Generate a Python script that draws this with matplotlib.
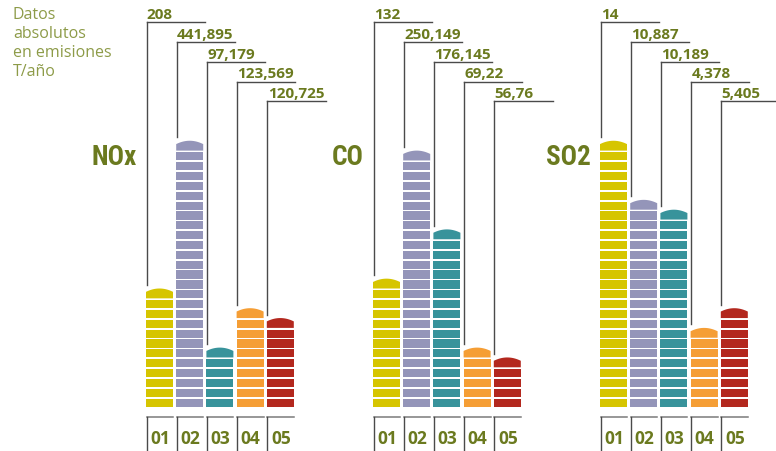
import numpy as np
import matplotlib
matplotlib.use("Agg")
import matplotlib.pyplot as plt
from matplotlib.patches import Polygon
from matplotlib import font_manager

# datos
gases = ['NOx', 'CO', 'SO2']
codigos = ['01', '02', '03', '04', '05']
valores_nox = ['208', '441,895', '97,179', '123,569', '120,725']
valores_co = ['132', '250,149', '176,145', '69,22', '56,76']
valores_so2 = ['14', '10,887', '10,189', '4,378', '5,405']
# altura de cada barra en numero de bloques
bloques_nox = [12, 27, 6, 10, 9]
bloques_co = [13, 26, 18, 6, 5]
bloques_so2 = [27, 21, 20, 8, 10]
titulo = ['Datos', 'absolutos', 'en emisiones', 'T/año']

colores = ['#d6c500', '#9495b9', '#38939b', '#f59e35', '#b3281e']
verde = '#6b7a1f'
verde_claro = '#8d9b48'
gris = '#4a4a4a'

valores = [valores_nox, valores_co, valores_so2]
bloques = [bloques_nox, bloques_co, bloques_so2]

# buscar una fuente estrecha para los nombres de los gases
instaladas = font_manager.fontManager.ttflist
fuente_gas = None
for nombre in ['Liberation Sans Narrow', 'Roboto Condensed', 'Open Sans Condensed',
               'DejaVu Sans Condensed']:
    if any(f.name == nombre for f in instaladas):
        fuente_gas = dict(family=[nombre, 'DejaVu Sans'])
        break
if fuente_gas is None:
    estrechas = [f for f in instaladas if f.stretch in ('condensed', 'semi-condensed', 'extra-condensed')]
    if estrechas:
        fuente_gas = dict(family=[estrechas[0].name, 'DejaVu Sans'], fontstretch=estrechas[0].stretch)
    else:
        fuente_gas = dict(family=['Open Sans', 'DejaVu Sans'])

# escala: 1 unidad x = paso entre barras, 1 unidad y = un bloque
px_x = 30.2
px_y = 9.85
x0 = -159.5 / px_x
y0 = -(452 - 407.7) / px_y
sep_grupo = 227 / px_x
ancho = 27 / px_x
hueco = 0.17

fig = plt.figure(figsize=(7.76, 4.52), dpi=100)
ax = fig.add_axes([0, 0, 1, 1])
ax.set_xlim(x0, x0 + 776 / px_x)
ax.set_ylim(y0, y0 + 452 / px_y)
ax.axis('off')

fuente_num = ['Open Sans', 'DejaVu Sans']

for g in range(len(gases)):
    base = g * sep_grupo
    ax.text(base - ancho / 2 - 0.3, 25.4, gases[g], ha='right', va='center',
            fontsize=19.5, fontweight='bold', color=verde, **fuente_gas)
    for i in range(len(codigos)):
        x = base + i
        n = bloques[g][i]
        izq = x - ancho / 2
        der = x + ancho / 2
        # bloques
        ax.bar([x] * (n - 1), 1 - hueco, bottom=np.arange(n - 1), width=ancho,
               color=colores[i], align='center')
        # tapa redondeada
        t = np.linspace(0, 1, 30)
        arco_y = n - 0.34 * (2 * t - 1) ** 2
        arco_x = izq + t * ancho
        pts = [(izq, n - 1)] + list(zip(arco_x, arco_y)) + [(der, n - 1)]
        ax.add_patch(Polygon(pts, closed=True, color=colores[i], lw=0))
        # linea guia y etiqueta de valor
        fila = 39.03 - 2.005 * i
        ax.plot([izq + 0.02, izq + 0.02], [n + 0.35, fila], color=gris, lw=1.0)
        ax.plot([izq + 0.02, izq + 1.944], [fila, fila], color=gris, lw=1.0)
        ax.text(izq + 0.03, fila + 0.42, valores[g][i], ha='left', va='baseline',
                fontsize=11, fontweight='bold', color=verde, family=fuente_num)
        # casilla inferior
        yc = -1.08
        ax.plot([izq + 0.02, der], [yc, yc], color='#7a7a7a', lw=1.1)
        ax.plot([izq + 0.02, izq + 0.02], [yc, y0 - 1], color=gris, lw=1.0)
        ax.text(x + 0.02, -3.2, codigos[i], ha='center', va='center',
                fontsize=12.5, fontweight='bold', color=verde, family=fuente_num)

for k in range(len(titulo)):
    fig.text(13 / 776, 1 - (19.3 + 19 * k) / 452, titulo[k], ha='left', va='baseline',
             fontsize=11.5, color=verde_claro, family=fuente_num)

fig.savefig('out.png', dpi=100)
